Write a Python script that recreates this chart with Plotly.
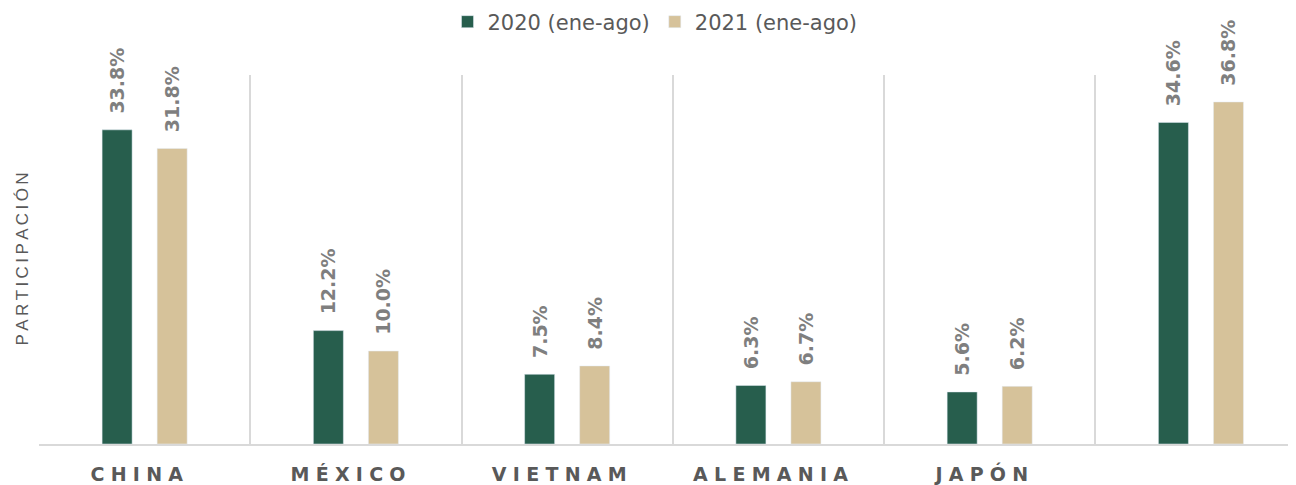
import plotly.graph_objects as go

categories = ["CHINA", "MÉXICO", "VIETNAM", "ALEMANIA", "JAPÓN", "OTROS"]
tick_labels = ["CHINA", "MÉXICO", "VIETNAM", "ALEMANIA", "JAPÓN", ""]
values_2020 = [33.8, 12.2, 7.5, 6.3, 5.6, 34.6]
values_2021 = [31.8, 10.0, 8.4, 6.7, 6.2, 36.8]
series_names = ["2020 (ene-ago)", "2021 (ene-ago)"]

GREEN = "#275E4D"
TAN = "#D6C29A"
LABEL_GRAY = "#7F7F7F"
TEXT_GRAY = "#595959"
GRID = "#D9D9D9"

W, H = 1288, 477  # page body has an 8px margin
L, T, B = 31, 67, 41

def spaced(s, sep):
    return sep.join(list(s))

def tick(s):
    return spaced(s, "\u2004") + ("\u2002\u2004" if s else "")

fig = go.Figure()
for name, vals, col in [(series_names[0], values_2020, GREEN), (series_names[1], values_2021, TAN)]:
    fig.add_trace(go.Bar(
        x=categories, y=vals, name=name, marker_color=col,
        text=[f"\u00a0\u00a0{v:.1f}%" for v in vals],
        textposition="outside", textangle=-90, constraintext="none",
        textfont=dict(family="DejaVu Sans", size=19, color=LABEL_GRAY, weight="bold"),
        cliponaxis=False,
    ))

plot_h = H - T - B
fig.update_layout(
    width=W, height=H,
    margin=dict(l=L, r=0, t=T, b=B, autoexpand=False),
    plot_bgcolor="white", paper_bgcolor="white",
    barmode="group", bargap=0.479, bargroupgap=0.4545,
    showlegend=True,
    legend=dict(orientation="h", x=(647 - L) / (W - L), xanchor="center",
                y=1 + (T - 14) / plot_h, yanchor="middle",
                font=dict(family="DejaVu Sans", size=21, color=TEXT_GRAY),
                itemwidth=30, traceorder="normal"),
    xaxis=dict(
        type="category", categoryorder="array", categoryarray=categories,
        range=[-0.5, 5.45], automargin=False,
        tickmode="array", tickvals=categories,
        ticktext=[tick(t) for t in tick_labels],
        tickson="boundaries", ticks="", showgrid=True, gridcolor=GRID, gridwidth=1.5,
        showline=True, linecolor=GRID, linewidth=2,
        tickfont=dict(family="DejaVu Sans", size=19, color=TEXT_GRAY, weight="bold"),
        ticklabelstandoff=12,
    ),
    yaxis=dict(range=[0, 39.7], showgrid=False, showticklabels=False, zeroline=False,
               showline=False, ticks="", automargin=False),
    annotations=[dict(text=spaced("PARTICIPACIÓN", "\u2009"), xref="paper", yref="paper",
                      x=(14 - L) / (W - L), y=0.5, textangle=-90, showarrow=False,
                      xanchor="center", yanchor="middle",
                      font=dict(family="Liberation Sans", size=17, color=TEXT_GRAY))],
)

fig.write_html("out.html")
